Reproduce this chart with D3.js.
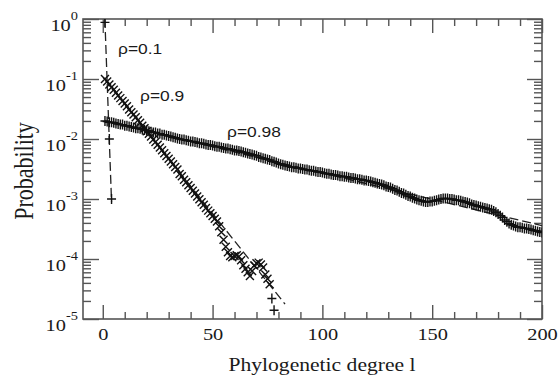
<!DOCTYPE html>
<html>
<head>
<meta charset="utf-8">
<script src="https://cdn.jsdelivr.net/npm/d3@7"></script>
<style>
  body { margin: 0; background: #fff; }
</style>
</head>
<body>
<div id="plot"></div>
<script>
// tick values
var xMajorTicks = [0, 50, 100, 150, 200]
var xMinorTicks = [10, 20, 30, 40, 60, 70, 80, 90, 110, 120, 130, 140, 160, 170, 180, 190]
var yExponents = [0, -1, -2, -3, -4, -5]

// rho = 0.1 (simulation points)
var rho01Degree = [1, 3, 4]
var rho01Prob = [0.88, 0.010, 0.0010]

// rho = 0.9 (simulation points, drawn as x)
var rho09Degree = [1, 2, 3, 4, 5, 6, 7, 8, 9, 10, 11, 12, 13, 14, 15, 16, 17, 18, 19, 20,
  21, 22, 23, 24, 25, 26, 27, 28, 29, 30, 31, 32, 33, 34, 35, 36, 37, 38, 39, 40,
  41, 42, 43, 44, 45, 46, 47, 48, 49, 50, 51, 52, 53, 54, 55, 56, 57, 58, 59, 60,
  61, 62, 63, 64, 65, 66, 67, 68, 69, 70, 71, 72, 73, 74, 75, 76]
var rho09Prob = [0.100, 0.091, 0.081, 0.073, 0.066, 0.059, 0.053, 0.048, 0.043, 0.039,
  0.035, 0.031, 0.028, 0.0255, 0.023, 0.0205, 0.0186, 0.0167, 0.0151, 0.0135,
  0.0122, 0.0110, 0.0098, 0.0089, 0.0080, 0.0072, 0.0065, 0.0058, 0.0052, 0.0047,
  0.0042, 0.0038, 0.0034, 0.0031, 0.0026, 0.0024, 0.0021, 0.0019, 0.0017, 0.00153,
  0.00137, 0.00123, 0.00110, 0.00099, 0.00088, 0.00080, 0.00071, 0.00064, 0.00058, 0.00052,
  0.00047, 0.00042, 3.5e-4, 2.8e-4, 2.1e-4, 1.6e-4, 1.3e-4, 1.12e-4, 1.07e-4, 1.12e-4,
  1.15e-4, 1.1e-4, 9.5e-5, 7.9e-5, 6.9e-5, 6.0e-5, 5.2e-5, 6.3e-5, 7.8e-5, 8.5e-5,
  8.7e-5, 8.1e-5, 7.2e-5, 5.5e-5, 4.7e-5, 3.8e-5]
// last two rho=0.9 points are plain crosses
var rho09TailDegree = [77, 78]
var rho09TailProb = [2.2e-5, 1.4e-5]

// rho = 0.98 (simulation points, log10 of probability, degree 1..200)
var rho098Degree = d3.range(1, 201)
var rho098Log10 = [
  -1.70, -1.71, -1.72, -1.72, -1.73, -1.74, -1.75, -1.76, -1.76, -1.78,
  -1.78, -1.79, -1.80, -1.81, -1.82, -1.82, -1.83, -1.84, -1.85, -1.86,
  -1.87, -1.88, -1.89, -1.89, -1.91, -1.91, -1.93, -1.93, -1.94, -1.95,
  -1.96, -1.97, -1.98, -1.99, -2.00, -2.01, -2.01, -2.02, -2.03, -2.04,
  -2.04, -2.05, -2.06, -2.07, -2.07, -2.08, -2.09, -2.10, -2.10, -2.11,
  -2.12, -2.13, -2.13, -2.14, -2.15, -2.16, -2.16, -2.17, -2.18, -2.19,
  -2.19, -2.20, -2.21, -2.22, -2.23, -2.24, -2.25, -2.26, -2.27, -2.28,
  -2.30, -2.31, -2.32, -2.33, -2.34, -2.35, -2.37, -2.38, -2.39, -2.41,
  -2.42, -2.43, -2.44, -2.45, -2.46, -2.47, -2.47, -2.48, -2.49, -2.49,
  -2.50, -2.51, -2.51, -2.52, -2.53, -2.53, -2.54, -2.55, -2.55, -2.56,
  -2.57, -2.58, -2.58, -2.59, -2.60, -2.60, -2.61, -2.62, -2.62, -2.63,
  -2.63, -2.64, -2.65, -2.65, -2.66, -2.67, -2.67, -2.68, -2.69, -2.69,
  -2.70, -2.71, -2.72, -2.73, -2.74, -2.75, -2.76, -2.77, -2.79, -2.80,
  -2.81, -2.83, -2.85, -2.86, -2.88, -2.90, -2.91, -2.93, -2.95, -2.96,
  -2.98, -2.99, -3.01, -3.02, -3.03, -3.04, -3.05, -3.05, -3.04, -3.04,
  -3.03, -3.02, -3.01, -3.00, -2.99, -2.99, -2.99, -3.00, -3.00, -3.01,
  -3.02, -3.02, -3.03, -3.04, -3.05, -3.06, -3.07, -3.09, -3.10, -3.11,
  -3.12, -3.13, -3.14, -3.15, -3.16, -3.17, -3.18, -3.20, -3.22, -3.25,
  -3.28, -3.31, -3.35, -3.38, -3.41, -3.43, -3.44, -3.46, -3.47, -3.47,
  -3.48, -3.49, -3.49, -3.50, -3.51, -3.52, -3.53, -3.54, -3.55, -3.56]

// dashed fit lines (end points)
var fit01Degree = [0.95, 4]
var fit01Prob = [1.0, 9e-4]
var fit09Degree = [1, 83]
var fit09Prob = [0.1, 1.77e-5]
var fit098Degree = [1, 200]
var fit098Prob = [0.02, 3.6e-4]

var labelTexts = ['\u03c1=0.1', '\u03c1=0.9', '\u03c1=0.98']

var width = 560
var height = 382
var margin = { top: 19, right: 18, bottom: 58, left: 83 }
var plotW = width - margin.left - margin.right
var plotH = height - margin.top - margin.bottom - 5
var sx = 1.2 // the original picture is stretched sideways
var axisColor = '#555'
var textColor = '#1a1a1a'
var serif = "'Liberation Serif', 'Times New Roman', serif"
var sans = "'Liberation Sans', Arial, sans-serif"

var xScale = d3.scaleLinear().domain([-9, 200]).range([margin.left, margin.left + plotW])
var yScale = d3.scaleLog().domain([1e-5, 1]).range([margin.top + plotH, margin.top])

var yMinorTicks = []
yExponents.slice(1).forEach(function(e) {
  for (var k = 2; k <= 9; k++) yMinorTicks.push(k * Math.pow(10, e))
})
var yMajorTicks = yExponents.map(function(e) { return Math.pow(10, e) })

var svg = d3
  .select('#plot')
  .append('svg')
  .attr('width', width)
  .attr('height', height)

svg.append('defs').append('clipPath').attr('id', 'clip')
  .append('rect')
  .attr('x', margin.left)
  .attr('y', margin.top)
  .attr('width', plotW)
  .attr('height', plotH)

function tickAxis(axis, tx, ty) {
  var g = svg.append('g')
    .attr('transform', 'translate(' + tx + ',' + ty + ')')
    .call(axis)
  g.select('.domain').remove()
  g.selectAll('line').attr('stroke', axisColor).attr('stroke-width', 1.4)
  return g
}

var bottom = margin.top + plotH
var right = margin.left + plotW

// x ticks (inward), labels on bottom only
var xAxisBottom = tickAxis(
  d3.axisBottom(xScale).tickValues(xMajorTicks).tickSizeInner(-14).tickSizeOuter(0)
    .tickPadding(9).tickFormat(d3.format('d')), 0, bottom)
xAxisBottom.selectAll('text')
  .attr('transform', 'scale(' + sx + ',1)')
  .style('font-family', serif)
  .style('font-size', '17px')
  .attr('fill', textColor)
tickAxis(d3.axisBottom(xScale).tickValues(xMinorTicks).tickSize(-7).tickFormat(''), 0, bottom)
tickAxis(d3.axisTop(xScale).tickValues(xMajorTicks).tickSize(-14).tickFormat(''), 0, margin.top)
tickAxis(d3.axisTop(xScale).tickValues(xMinorTicks).tickSize(-7).tickFormat(''), 0, margin.top)

// y ticks (inward) on both sides
tickAxis(d3.axisLeft(yScale).tickValues(yMajorTicks).tickSize(-16).tickFormat(''), margin.left, 0)
tickAxis(d3.axisLeft(yScale).tickValues(yMinorTicks).tickSize(-8).tickFormat(''), margin.left, 0)
tickAxis(d3.axisRight(yScale).tickValues(yMajorTicks).tickSize(-15).tickFormat(''), right, 0)
tickAxis(d3.axisRight(yScale).tickValues(yMinorTicks).tickSize(-8).tickFormat(''), right, 0)

// frame
svg.append('rect')
  .attr('x', margin.left)
  .attr('y', margin.top)
  .attr('width', plotW)
  .attr('height', plotH)
  .attr('fill', 'none')
  .attr('stroke', axisColor)
  .attr('stroke-width', 1.6)

// y labels 10^e
svg.append('g')
  .selectAll('text')
  .data(yExponents)
  .join('text')
  .attr('transform', function(e) {
    return 'translate(78,' + (yScale(Math.pow(10, e)) + 11.7) + ') scale(' + sx + ',1)'
  })
  .attr('text-anchor', 'end')
  .style('font-family', serif)
  .style('font-size', '17px')
  .attr('fill', textColor)
  .each(function(e) {
    var t = d3.select(this)
    t.append('tspan').text('10')
    t.append('tspan').attr('dy', -11).style('font-size', '12px').text(String(e))
  })

// axis titles
svg.append('text')
  .attr('transform', 'translate(322,371) scale(' + sx + ',1)')
  .attr('text-anchor', 'middle')
  .style('font-family', serif)
  .style('font-size', '18px')
  .attr('fill', textColor)
  .text('Phylogenetic degree l')

svg.append('text')
  .attr('transform', 'translate(33,171) scale(' + sx + ',1) rotate(-90)')
  .attr('text-anchor', 'middle')
  .style('font-family', serif)
  .style('font-size', '22px')
  .attr('fill', textColor)
  .text('Probability')

var plot = svg.append('g').attr('clip-path', 'url(#clip)')

var fitLine = d3.line()
  .x(function(d) { return xScale(d[0]) })
  .y(function(d) { return yScale(d[1]) })

;[[fit01Degree, fit01Prob], [fit09Degree, fit09Prob], [fit098Degree, fit098Prob]].forEach(function(f) {
  plot.append('path')
    .datum(d3.zip(f[0], f[1]))
    .attr('d', fitLine)
    .attr('fill', 'none')
    .attr('stroke', '#222')
    .attr('stroke-width', 1.3)
    .attr('stroke-dasharray', '9,4')
})

var plusPath = 'M-4.5,0H4.5M0,-5V5'
var crossPath = 'M-4,-4L4,4M-4,4L4,-4'

function markers(xs, ps, shape) {
  plot.append('g')
    .selectAll('path')
    .data(d3.zip(xs, ps))
    .join('path')
    .attr('transform', function(d) {
      return 'translate(' + xScale(d[0]) + ',' + yScale(d[1]) + ')'
    })
    .attr('d', shape)
    .attr('fill', 'none')
    .attr('stroke', '#111')
    .attr('stroke-width', 1.4)
}

markers(rho098Degree, rho098Log10.map(function(v) { return Math.pow(10, v) }), plusPath)
markers(rho09Degree, rho09Prob, crossPath)
markers(rho09TailDegree, rho09TailProb, plusPath)
markers(rho01Degree, rho01Prob, plusPath)

// series labels
var labelPos = [[118, 54], [140, 101], [227, 137]]
svg.append('g')
  .selectAll('text')
  .data(labelTexts)
  .join('text')
  .attr('transform', function(d, i) {
    return 'translate(' + labelPos[i][0] + ',' + labelPos[i][1] + ') scale(' + sx + ',1)'
  })
  .style('font-family', sans)
  .style('font-size', '14.5px')
  .attr('fill', textColor)
  .text(function(d) { return d })
</script>
</body>
</html>
